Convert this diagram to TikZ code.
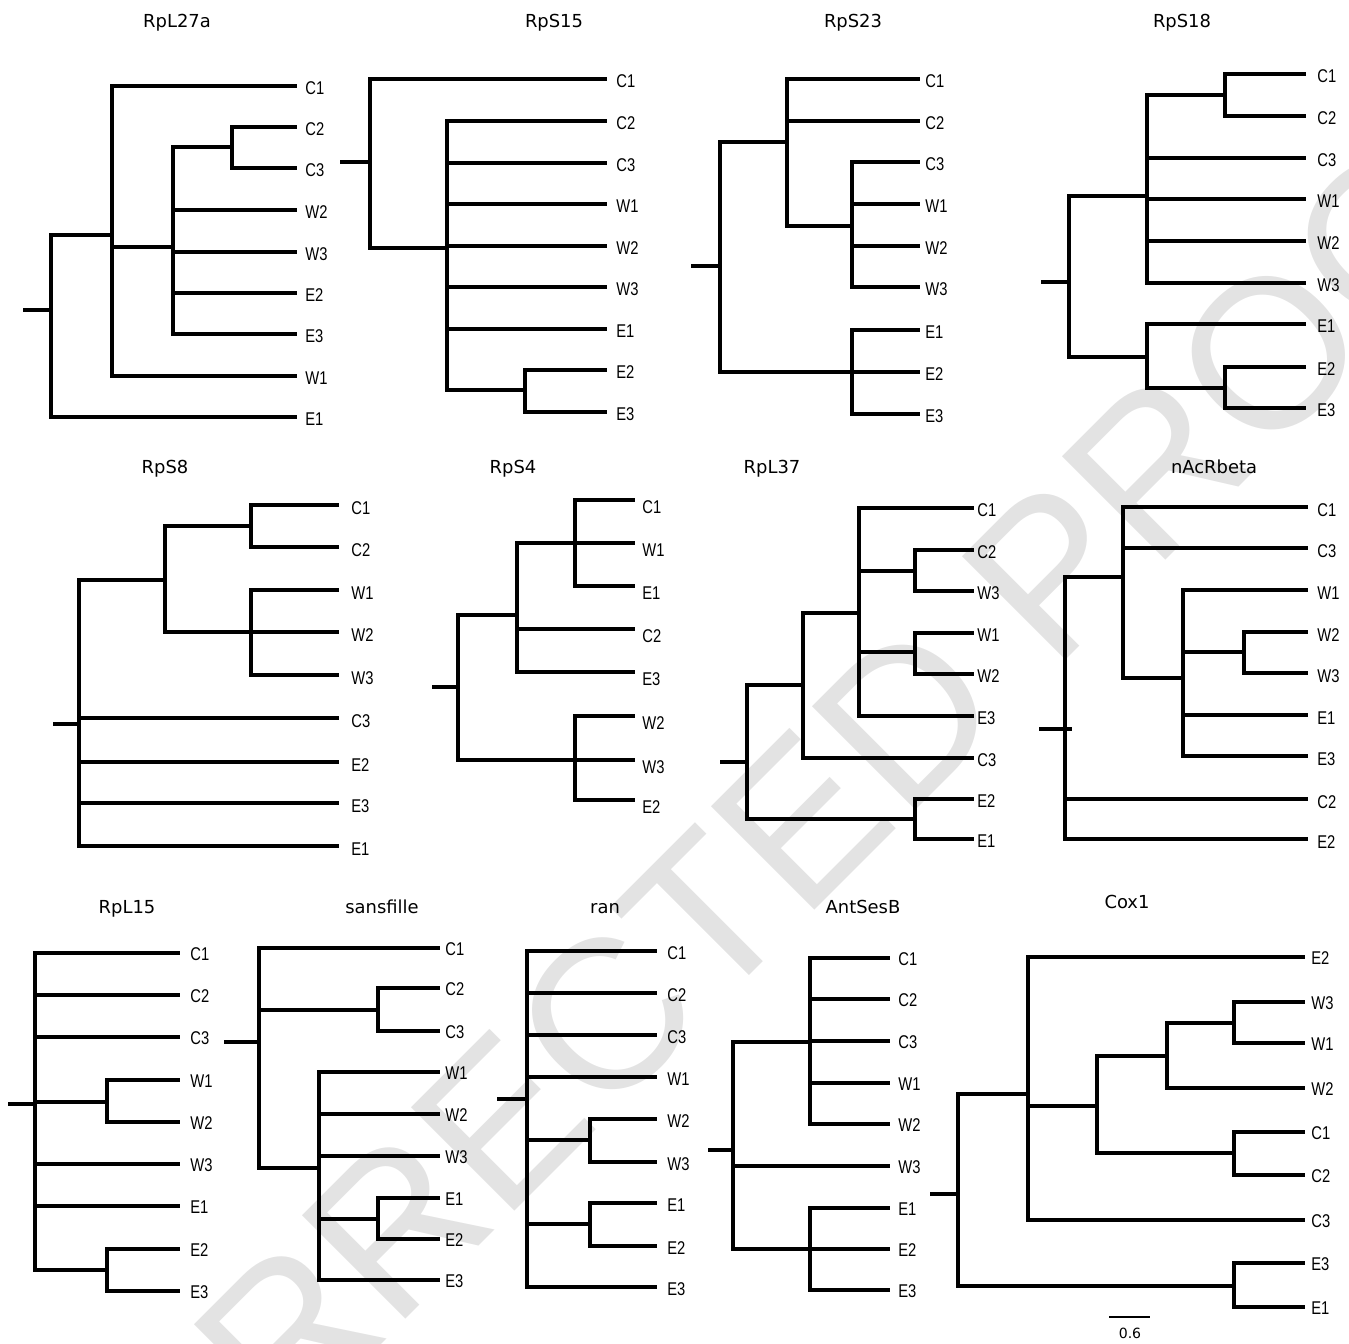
\documentclass[tikz,border=0pt]{standalone}
\usepackage{fontspec}
\setmainfont{Liberation Sans}
\newfontfamily\tipfont[FakeStretch=0.8]{Liberation Sans}
\newfontfamily\ttlfont{DejaVu Sans}
\tikzset{
  branch/.style={line width=2.4pt, line cap=rect},
  tip/.style={anchor=west, inner sep=0pt, font=\tipfont\fontsize{10.5}{12}\selectfont},
  ttl/.style={anchor=base, inner sep=0pt, font=\ttlfont\fontsize{10.2}{12}\selectfont},
  scalebar/.style={line width=0.7pt},
  stamp/.style={rotate=45, inner sep=0pt, text=black!11, font=\fontsize{121}{121}\selectfont}
}
% one leaf: branch from x0 to the tips, then its label
\newcommand{\leaf}[3]{%
  \draw[branch] (#1,#2) -- (\xend,#2);
  \node[tip] (\treeid#3) at (\xlab,#2+\tipdy) {#3};}

\begin{document}
\begin{tikzpicture}[x=0.02cm, y=-0.02cm]
\useasboundingbox (0,0) rectangle (1349,1343);
\node[stamp] (stamp) at (772,850) {CORRECTED PROOF};

% RpL27a
\def\treeid{a}\def\xend{295}\def\xlab{305}\def\tipdy{2}
\node[ttl] (ttla) at (177,27) {RpL27a};
\draw[branch] (25,310) -- (51,310) (51,235) -- (51,417) (51,235) -- (112,235);
\draw[branch] (112,86) -- (112,376) (112,247) -- (173,247);
\draw[branch] (173,147) -- (173,334) (173,147) -- (232,147) (232,127) -- (232,168);
\leaf{51}{417}{E1}
\leaf{112}{86}{C1}
\leaf{112}{376}{W1}
\leaf{232}{127}{C2}
\leaf{232}{168}{C3}
\foreach \y/\nm in {210/W2,252/W3,293/E2,334/E3} {\leaf{173}{\y}{\nm}}

% RpS15
\def\treeid{b}\def\xend{605}\def\xlab{616}\def\tipdy{2}
\node[ttl] (ttlb) at (554,27) {RpS15};
\draw[branch] (342,162) -- (370,162) (370,79) -- (370,248) (370,248) -- (447,248);
\draw[branch] (447,121) -- (447,390) (447,390) -- (525,390) (525,370) -- (525,412);
\leaf{370}{79}{C1}
\foreach \y/\nm in {121/C2,163/C3,204/W1,246/W2,287/W3,329/E1} {\leaf{447}{\y}{\nm}}
\leaf{525}{370}{E2}
\leaf{525}{412}{E3}

% RpS23
\def\treeid{c}\def\xend{918}\def\xlab{925}\def\tipdy{2}
\node[ttl] (ttlc) at (853,27) {RpS23};
\draw[branch] (693,266) -- (720,266) (720,142) -- (720,372) (720,142) -- (787,142);
\draw[branch] (787,79) -- (787,226) (787,226) -- (852,226) (852,162) -- (852,287);
\draw[branch] (720,372) -- (852,372) (852,330) -- (852,414);
\leaf{787}{79}{C1}
\leaf{787}{121}{C2}
\foreach \y/\nm in {162/C3,204/W1,246/W2,287/W3,330/E1,372/E2,414/E3} {\leaf{852}{\y}{\nm}}

% RpS18
\def\treeid{d}\def\xend{1304}\def\xlab{1317}\def\tipdy{2}
\node[ttl] (ttld) at (1182,27) {RpS18};
\draw[branch] (1043,282) -- (1069,282) (1069,196) -- (1069,357) (1069,196) -- (1147,196);
\draw[branch] (1147,95) -- (1147,283) (1147,95) -- (1225,95) (1225,74) -- (1225,116);
\draw[branch] (1069,357) -- (1147,357) (1147,324) -- (1147,388) (1147,388) -- (1225,388) (1225,367) -- (1225,408);
\leaf{1225}{74}{C1}
\leaf{1225}{116}{C2}
\foreach \y/\nm in {158/C3,199/W1,241/W2,283/W3,324/E1} {\leaf{1147}{\y}{\nm}}
\leaf{1225}{367}{E2}
\leaf{1225}{408}{E3}

% RpS8
\def\treeid{e}\def\xend{337}\def\xlab{351}\def\tipdy{3}
\node[ttl] (ttle) at (165,473) {RpS8};
\draw[branch] (55,724) -- (79,724) (79,580) -- (79,846) (79,580) -- (165,580);
\draw[branch] (165,526) -- (165,632) (165,526) -- (251,526) (251,505) -- (251,547);
\draw[branch] (165,632) -- (251,632) (251,590) -- (251,675);
\leaf{251}{505}{C1}
\leaf{251}{547}{C2}
\foreach \y/\nm in {590/W1,632/W2,675/W3} {\leaf{251}{\y}{\nm}}
\foreach \y/\nm in {718/C3,762/E2,803/E3,846/E1} {\leaf{79}{\y}{\nm}}

% RpS4
\def\treeid{f}\def\xend{633}\def\xlab{642}\def\tipdy{7}
\node[ttl] (ttlf) at (513,473) {RpS4};
\draw[branch] (434,687) -- (458,687) (458,615) -- (458,760) (458,615) -- (517,615);
\draw[branch] (517,543) -- (517,672) (517,543) -- (575,543) (575,500) -- (575,586);
\draw[branch] (458,760) -- (575,760) (575,716) -- (575,800);
\foreach \y/\nm in {500/C1,543/W1,586/E1} {\leaf{575}{\y}{\nm}}
\leaf{517}{629}{C2}
\leaf{517}{672}{E3}
\foreach \y/\nm in {716/W2,760/W3,800/E2} {\leaf{575}{\y}{\nm}}

% RpL37
\def\treeid{g}\def\xend{972}\def\xlab{977}\def\tipdy{2}
\node[ttl] (ttlg) at (772,473) {RpL37};
\draw[branch] (722,762) -- (747,762) (747,685) -- (747,819) (747,685) -- (803,685);
\draw[branch] (803,613) -- (803,758) (803,613) -- (859,613) (859,508) -- (859,716);
\draw[branch] (859,571) -- (915,571) (915,550) -- (915,591);
\draw[branch] (859,652) -- (915,652) (915,633) -- (915,674);
\draw[branch] (747,819) -- (915,819) (915,799) -- (915,839);
\leaf{859}{508}{C1}
\leaf{915}{550}{C2}
\leaf{915}{591}{W3}
\leaf{915}{633}{W1}
\leaf{915}{674}{W2}
\leaf{859}{716}{E3}
\leaf{803}{758}{C3}
\leaf{915}{799}{E2}
\leaf{915}{839}{E1}

% nAcRbeta
\def\treeid{h}\def\xend{1306}\def\xlab{1317}\def\tipdy{3}
\node[ttl] (ttlh) at (1214,473) {nAcRbeta};
\draw[branch] (1041,729) -- (1070,729) (1065,577) -- (1065,839) (1065,577) -- (1123,577);
\draw[branch] (1123,507) -- (1123,678) (1123,678) -- (1183,678) (1183,590) -- (1183,756);
\draw[branch] (1183,652) -- (1244,652) (1244,632) -- (1244,673);
\leaf{1123}{507}{C1}
\leaf{1123}{548}{C3}
\leaf{1183}{590}{W1}
\leaf{1244}{632}{W2}
\leaf{1244}{673}{W3}
\leaf{1183}{715}{E1}
\leaf{1183}{756}{E3}
\leaf{1065}{799}{C2}
\leaf{1065}{839}{E2}

% RpL15
\def\treeid{i}\def\xend{178}\def\xlab{190}\def\tipdy{1}
\node[ttl] (ttli) at (127,913) {RpL15};
\draw[branch] (10,1104) -- (35,1104) (35,953) -- (35,1270);
\draw[branch] (35,1102) -- (107,1102) (107,1080) -- (107,1122);
\draw[branch] (35,1270) -- (107,1270) (107,1249) -- (107,1291);
\foreach \y/\nm in {953/C1,995/C2,1037/C3,1164/W3,1206/E1} {\leaf{35}{\y}{\nm}}
\foreach \y/\nm in {1080/W1,1122/W2,1249/E2,1291/E3} {\leaf{107}{\y}{\nm}}

% sansfille
\def\treeid{j}\def\xend{438}\def\xlab{445}\def\tipdy{1}
\node[ttl] (ttlj) at (382,913) {sansfille};
\draw[branch] (226,1042) -- (259,1042) (259,948) -- (259,1168);
\draw[branch] (259,1010) -- (378,1010) (378,988) -- (378,1031);
\draw[branch] (259,1168) -- (319,1168) (319,1072) -- (319,1280);
\draw[branch] (319,1219) -- (378,1219) (378,1198) -- (378,1239);
\leaf{259}{948}{C1}
\leaf{378}{988}{C2}
\leaf{378}{1031}{C3}
\foreach \y/\nm in {1072/W1,1114/W2,1156/W3,1280/E3} {\leaf{319}{\y}{\nm}}
\leaf{378}{1198}{E1}
\leaf{378}{1239}{E2}

% ran
\def\treeid{k}\def\xend{655}\def\xlab{667}\def\tipdy{2}
\node[ttl] (ttlk) at (605,913) {ran};
\draw[branch] (499,1099) -- (527,1099) (527,951) -- (527,1287);
\draw[branch] (527,1140) -- (590,1140) (590,1119) -- (590,1162);
\draw[branch] (527,1224) -- (590,1224) (590,1203) -- (590,1246);
\foreach \y/\nm in {951/C1,993/C2,1035/C3,1077/W1,1287/E3} {\leaf{527}{\y}{\nm}}
\foreach \y/\nm in {1119/W2,1162/W3,1203/E1,1246/E2} {\leaf{590}{\y}{\nm}}

% AntSesB
\def\treeid{l}\def\xend{888}\def\xlab{898}\def\tipdy{1}
\node[ttl] (ttll) at (863,913) {AntSesB};
\draw[branch] (710,1150) -- (733,1150) (733,1042) -- (733,1249) (733,1042) -- (810,1042);
\draw[branch] (810,958) -- (810,1124) (733,1249) -- (810,1249) (810,1208) -- (810,1290);
\foreach \y/\nm in {958/C1,999/C2,1041/C3,1083/W1,1124/W2} {\leaf{810}{\y}{\nm}}
\leaf{733}{1166}{W3}
\foreach \y/\nm in {1208/E1,1249/E2,1290/E3} {\leaf{810}{\y}{\nm}}

% Cox1
\def\treeid{m}\def\xend{1303}\def\xlab{1311}\def\tipdy{1}
\node[ttl] (ttlm) at (1127,908) {Cox1};
\draw[branch] (932,1194) -- (958,1194) (958,1094) -- (958,1286) (958,1094) -- (1028,1094);
\draw[branch] (1028,957) -- (1028,1220) (1028,1106) -- (1097,1106) (1097,1056) -- (1097,1153);
\draw[branch] (1097,1056) -- (1167,1056) (1167,1023) -- (1167,1088) (1167,1023) -- (1234,1023) (1234,1002) -- (1234,1043);
\draw[branch] (1097,1153) -- (1234,1153) (1234,1132) -- (1234,1175);
\draw[branch] (958,1286) -- (1234,1286) (1234,1263) -- (1234,1307);
\leaf{1028}{957}{E2}
\leaf{1234}{1002}{W3}
\leaf{1234}{1043}{W1}
\leaf{1167}{1088}{W2}
\leaf{1234}{1132}{C1}
\leaf{1234}{1175}{C2}
\leaf{1028}{1220}{C3}
\leaf{1234}{1263}{E3}
\leaf{1234}{1307}{E1}
\coordinate (barl) at (1109,1317);
\coordinate (barr) at (1150,1317);
\draw[scalebar] (barl) -- (barr);
\node[ttl, font=\ttlfont\fontsize{8}{10}\selectfont] (barlab) at (1130,1338) {0.6};
\end{tikzpicture}
\end{document}
